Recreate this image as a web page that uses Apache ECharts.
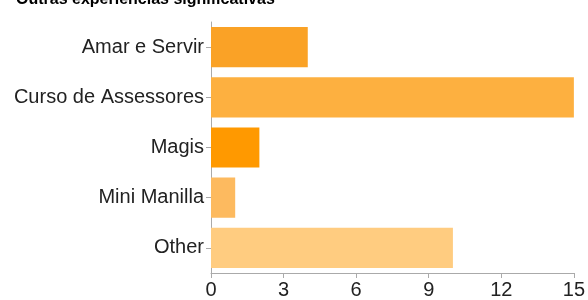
<!DOCTYPE html>
<html>
<head>
<meta charset="utf-8">
<script src="https://cdn.jsdelivr.net/npm/echarts@6/dist/echarts.min.js"></script>
<style>
  html, body { margin: 0; padding: 0; background: #fff; }
  #chart { width: 588px; height: 300px; }
</style>
</head>
<body>
<div id="chart"></div>
<script>
const categories = ["Amar e Servir", "Curso de Assessores", "Magis", "Mini Manilla", "Other"];
const counts = [4, 15, 2, 1, 10];
const xTicks = [0, 3, 6, 9, 12, 15];

const barColors = ["#FAA226", "#FDB040", "#FF9900", "#FDBA5F", "#FFCC80"];

const chart = echarts.init(document.getElementById("chart"));

chart.setOption({
  animation: false,
  title: {
    text: "Outras experiências significativas",
    left: 11,
    top: -13,
    textStyle: { fontFamily: "Liberation Sans", fontSize: 16, fontWeight: "bold", color: "#000" },
  },
  grid: { left: 211, right: 12, top: 22, bottom: 27 },
  xAxis: {
    type: "value",
    min: xTicks[0],
    max: xTicks[xTicks.length - 1],
    interval: xTicks[1] - xTicks[0],
    axisLine: { show: true, lineStyle: { color: "#aaa" } },
    axisTick: { show: true, length: 5, lineStyle: { color: "#aaa" } },
    axisLabel: { margin: 7, fontFamily: "Liberation Sans", fontSize: 20, color: "#222" },
    splitLine: { show: false },
  },
  yAxis: {
    type: "category",
    inverse: true,
    data: categories,
    axisLine: { show: true, lineStyle: { color: "#aaa" } },
    axisTick: { show: true, length: 5, alignWithLabel: true, lineStyle: { color: "#aaa" } },
    axisLabel: { margin: 7, fontFamily: "Liberation Sans", fontSize: 20, color: "#222" },
  },
  series: [
    {
      type: "bar",
      barCategoryGap: "20%",
      data: counts.map((v, i) => ({ value: v, itemStyle: { color: barColors[i] } })),
    },
  ],
});
</script>
</body>
</html>
